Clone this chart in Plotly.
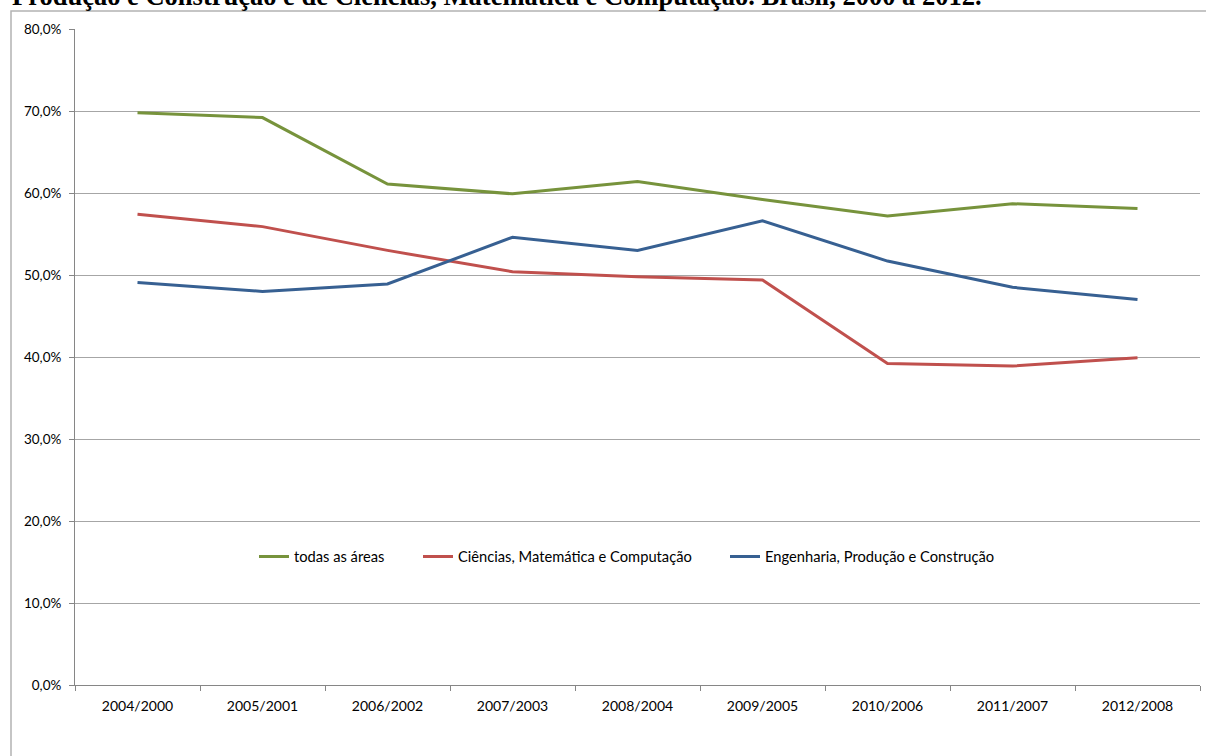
import plotly.graph_objects as go

categories = ["2004/2000", "2005/2001", "2006/2002", "2007/2003", "2008/2004",
              "2009/2005", "2010/2006", "2011/2007", "2012/2008"]
todas_areas = [69.8, 69.2, 61.1, 59.9, 61.4, 59.2, 57.2, 58.7, 58.1]
ciencias = [57.4, 55.9, 53.0, 50.4, 49.8, 49.4, 39.2, 38.9, 39.9]
engenharia = [49.1, 48.0, 48.9, 54.6, 53.0, 56.6, 51.7, 48.5, 47.0]
series_names = ["todas as áreas", "Ciências, Matemática e Computação",
                "Engenharia, Produção e Construção"]
series_colors = ["#77933C", "#C0504D", "#376092"]
title_text = "Produção e Construção e de Ciências, Matemática e Computação. Brasil, 2000 a 2012."

W, H = 1206, 756
L, T = 75, 29
pw, ph = 1125, 656
R = W - L - pw
B = H - T - ph

def px_x(p):
    return (p - L) / pw

def px_y(p):
    return (T + ph - p) / ph

legend_ids = ["legend", "legend2", "legend3"]
legend_line_start = [259, 423, 730]
LEG_D = 5

fig = go.Figure()
for name, vals, col, lid in zip(series_names, [todas_areas, ciencias, engenharia],
                                series_colors, legend_ids):
    fig.add_trace(go.Scatter(
        x=categories, y=[v / 100 for v in vals], name=name, mode="lines",
        line=dict(color=col, width=3), legend=lid, hoverinfo="x+y+name"))

leg_font = dict(family="Lato", size=14.7, color="#000000")
legends = {}
for lid, xs in zip(legend_ids, legend_line_start):
    legends[lid] = dict(orientation="h", x=px_x(xs - LEG_D), xanchor="left",
                        y=px_y(557), yanchor="middle", bgcolor="rgba(0,0,0,0)",
                        font=leg_font, itemwidth=30)

fig.update_layout(
    width=W, height=H,
    margin=dict(l=L, r=R, t=T, b=B, pad=0),
    paper_bgcolor="white", plot_bgcolor="white",
    separators=",.",
    font=dict(family="Lato", size=14, color="#000000"),
    showlegend=True,
    xaxis=dict(type="category", showline=True, linecolor="#868686", linewidth=1,
               ticks="outside", ticklen=5, tickcolor="#868686", tickson="boundaries",
               showgrid=False, zeroline=False, ticklabelstandoff=8,
               tickfont=dict(family="Lato", size=14, color="#000000"),
               range=[-0.5, len(categories) - 0.5]),
    yaxis=dict(range=[0, 0.8], dtick=0.1, tickformat=".1%", showline=True,
               linecolor="#868686", linewidth=1, ticks="outside", ticklen=5,
               tickcolor="#868686", showgrid=True, gridcolor="#A6A6A6", gridwidth=1,
               zeroline=False, ticklabelstandoff=5,
               tickfont=dict(family="Lato", size=13.5, color="#000000")),
    shapes=[dict(type="rect", xref="paper", yref="paper",
                 x0=px_x(11), x1=px_x(1215), y0=px_y(11), y1=px_y(770),
                 line=dict(color="#B3B3B3", width=1.5), fillcolor="rgba(0,0,0,0)",
                 layer="below")],
    annotations=[dict(text="<b>" + title_text + "</b>", xref="paper", yref="paper",
                      x=px_x(10), xanchor="left", y=px_y(-4.5), yanchor="middle",
                      showarrow=False,
                      font=dict(family="Liberation Serif", size=26.5, color="#000000"))],
    **legends,
)

fig.write_html("out.html", config={"displayModeBar": False},
               post_script="document.body.style.margin='0';document.body.style.overflow='hidden';")
